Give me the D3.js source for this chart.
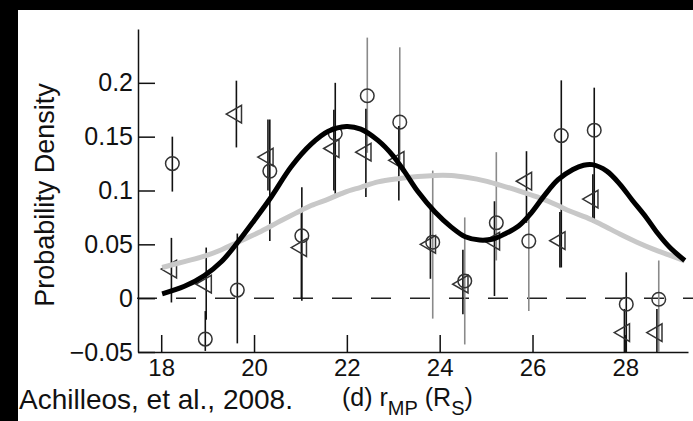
<!DOCTYPE html>
<html>
<head>
<meta charset="utf-8">
<script src="https://cdn.jsdelivr.net/npm/d3@7"></script>
<style>
  body { margin: 0; background: #fff; }
  svg text { font-family: "Liberation Sans", Arial, Helvetica, sans-serif; fill: #111; }
</style>
</head>
<body>
<svg width="693" height="421"></svg>
<script>
// ---- data ----
const xTicks = [18, 20, 22, 24, 26, 28];
const yTicks = [-0.05, 0, 0.05, 0.1, 0.15, 0.2];
const yTickLabels = ["\u22120.05", "0", "0.05", "0.1", "0.15", "0.2"];

// open circles: position, error bar low / high, bar colour
const circX  = [18.24, 18.95, 19.64, 20.34, 21.03, 21.75, 22.44, 23.14, 23.85, 24.54, 25.22, 25.92, 26.62, 27.33, 28.02, 28.72];
const circY  = [0.125, -0.038, 0.0075, 0.118, 0.058, 0.153, 0.188, 0.1635, 0.052, 0.016, 0.070, 0.053, 0.151, 0.156, -0.0056, -0.001];
const circLo = [0.099, -0.049, -0.042, 0.053, -0.0025, 0.097, 0.135, 0.128, -0.019, -0.043, 0.035, -0.012, 0.0285, 0.0704, -0.05, -0.05];
const circHi = [0.150, -0.012, 0.060, 0.166, 0.103, 0.200, 0.242, 0.233, 0.1185, 0.075, 0.1356, 0.08, 0.2023, 0.1955, 0.024, 0.035];
const circBar = ["k", "k", "k", "k", "k", "k", "g", "g", "g", "g", "g", "g", "k", "k", "k", "g"];

// left-pointing triangles
const triX  = [18.22, 18.97, 19.62, 20.30, 21.02, 21.72, 22.41, 23.12, 23.80, 24.50, 25.18, 25.87, 26.59, 27.30, 27.98, 28.68];
const triY  = [0.027, 0.013, 0.171, 0.131, 0.047, 0.139, 0.1356, 0.128, 0.050, 0.013, 0.053, 0.1086, 0.0534, 0.092, -0.032, -0.032];
const triLo = [-0.004, -0.02, 0.140, 0.10, 0.0, 0.10, 0.094, 0.0906, 0.018, -0.015, 0.002, 0.07, 0.0285, 0.0704, -0.05, -0.05];
const triHi = [0.056, 0.047, 0.202, 0.166, 0.08, 0.175, 0.176, 0.16, 0.083, 0.045, 0.09, 0.1365, 0.08, 0.115, -0.01, -0.01];

// fitted curves (black = two-peak fit, grey = single-peak fit)
const blackX = [18.02, 18.5, 18.93, 19.3, 19.65, 20.0, 20.37, 20.8, 21.23, 21.6, 21.99, 22.3, 22.67, 23.0, 23.25, 23.53, 23.9, 24.25, 24.55, 24.86, 25.15, 25.4, 25.7, 25.97, 26.25, 26.55, 26.87, 27.1, 27.29, 27.6, 27.88, 28.15, 28.45, 28.7, 28.96, 29.28];
const blackY = [0.004, 0.011, 0.021, 0.034, 0.052, 0.072, 0.094, 0.122, 0.143, 0.155, 0.1595, 0.157, 0.1465, 0.132, 0.117, 0.099, 0.080, 0.066, 0.057, 0.054, 0.055, 0.0596, 0.067, 0.079, 0.095, 0.110, 0.1195, 0.1235, 0.124, 0.118, 0.106, 0.091, 0.075, 0.060, 0.047, 0.035];
const greyX = [18.02, 18.5, 18.93, 19.3, 19.65, 20.1, 20.51, 20.9, 21.23, 21.6, 21.95, 22.3, 22.67, 23.1, 23.53, 23.9, 24.25, 24.6, 24.97, 25.3, 25.69, 26.1, 26.5, 26.8, 27.16, 27.5, 27.88, 28.25, 28.6, 28.95, 29.28];
const greyY = [0.0285, 0.034, 0.039, 0.045, 0.052, 0.061, 0.0704, 0.079, 0.086, 0.092, 0.0983, 0.103, 0.108, 0.111, 0.113, 0.114, 0.1139, 0.112, 0.109, 0.105, 0.0999, 0.094, 0.087, 0.081, 0.075, 0.068, 0.0596, 0.052, 0.0456, 0.040, 0.0347];

var svg = d3.select("svg");

// black scan border on top and left
svg.append("rect").attr("x", 0).attr("y", 0).attr("width", 693).attr("height", 10).attr("fill", "#000");
svg.append("rect").attr("x", 0).attr("y", 0).attr("width", 18).attr("height", 421).attr("fill", "#000");

var xScale = d3.scaleLinear().domain([17.5, 29.35]).range([138, 688]);
var yScale = d3.scaleLinear().domain([-0.05, 0.25]).range([352, 29]);

// zero line
svg.append("line")
    .attr("x1", 137).attr("x2", 693)
    .attr("y1", yScale(0)).attr("y2", yScale(0))
    .attr("stroke", "#222")
    .attr("stroke-width", 1.5)
    .attr("stroke-dasharray", "20,19");

// axes
var xAxis = d3.axisBottom(xScale)
    .tickValues(xTicks)
    .tickFormat(d3.format("d"))
    .tickSizeInner(-17)
    .tickSizeOuter(0)
    .tickPadding(7);

var yAxis = d3.axisLeft(yScale)
    .tickValues(yTicks)
    .tickFormat((d, i) => yTickLabels[i])
    .tickSizeInner(-17)
    .tickSizeOuter(0)
    .tickPadding(5);

var gx = svg.append("g").attr("transform", "translate(0," + yScale(-0.05) + ")").call(xAxis);
var gy = svg.append("g").attr("transform", "translate(138,0)").call(yAxis);

[gx, gy].forEach(g => {
    g.selectAll("path, line").attr("stroke", "#111").attr("stroke-width", 1.5);
    g.selectAll("text").attr("fill", "#111");
});
gx.selectAll("text").style("font-size", "24px");
gy.selectAll("text").style("font-size", "25px");

// error bars
var circles = circX.map((x, i) => ({x: x, y: circY[i], lo: circLo[i], hi: circHi[i], c: circBar[i]}));
var tris = triX.map((x, i) => ({x: x, y: triY[i], lo: triLo[i], hi: triHi[i]}));

svg.append("g").selectAll("line")
    .data(circles)
    .join("line")
    .attr("x1", d => xScale(d.x)).attr("x2", d => xScale(d.x))
    .attr("y1", d => yScale(d.lo)).attr("y2", d => yScale(d.hi))
    .attr("stroke", d => d.c === "g" ? "#8a8a8a" : "#111")
    .attr("stroke-width", 1.6);

svg.append("g").selectAll("line")
    .data(tris)
    .join("line")
    .attr("x1", d => xScale(d.x)).attr("x2", d => xScale(d.x))
    .attr("y1", d => yScale(d.lo)).attr("y2", d => yScale(d.hi))
    .attr("stroke", "#111")
    .attr("stroke-width", 1.6);

// markers
svg.append("g").selectAll("circle")
    .data(circles)
    .join("circle")
    .attr("cx", d => xScale(d.x))
    .attr("cy", d => yScale(d.y))
    .attr("r", 6.8)
    .attr("fill", "none")
    .attr("stroke", "#333")
    .attr("stroke-width", 1.5);

var tri = d3.symbol().type(d3.symbolTriangle).size(135);
svg.append("g").selectAll("path")
    .data(tris)
    .join("path")
    .attr("d", tri)
    .attr("transform", d => "translate(" + xScale(d.x) + "," + yScale(d.y) + ") rotate(-90)")
    .attr("fill", "none")
    .attr("stroke", "#333")
    .attr("stroke-width", 1.5);

// curves
var line = d3.line()
    .x(d => xScale(d[0]))
    .y(d => yScale(d[1]))
    .curve(d3.curveCatmullRom);

svg.append("path")
    .datum(greyX.map((x, i) => [x, greyY[i]]))
    .attr("d", line)
    .attr("fill", "none")
    .attr("stroke", "#c8c8c8")
    .attr("stroke-width", 5);

svg.append("path")
    .datum(blackX.map((x, i) => [x, blackY[i]]))
    .attr("d", line)
    .attr("fill", "none")
    .attr("stroke", "#000")
    .attr("stroke-width", 5);

// labels
svg.append("text")
    .attr("transform", "translate(54,195) rotate(-90)")
    .attr("text-anchor", "middle")
    .style("font-size", "27px")
    .text("Probability Density");

var xl = svg.append("text")
    .attr("x", 342)
    .attr("y", 406)
    .style("font-size", "25px");
xl.append("tspan").text("(d) r");
xl.append("tspan").attr("dy", 9).style("font-size", "20px").text("MP");
xl.append("tspan").attr("dy", -9).text(" (R");
xl.append("tspan").attr("dy", 9).style("font-size", "20px").text("S");
xl.append("tspan").attr("dy", -9).text(")");

svg.append("text")
    .attr("x", 19)
    .attr("y", 409)
    .style("font-size", "28px")
    .text("Achilleos, et al., 2008.");
</script>
</body>
</html>
